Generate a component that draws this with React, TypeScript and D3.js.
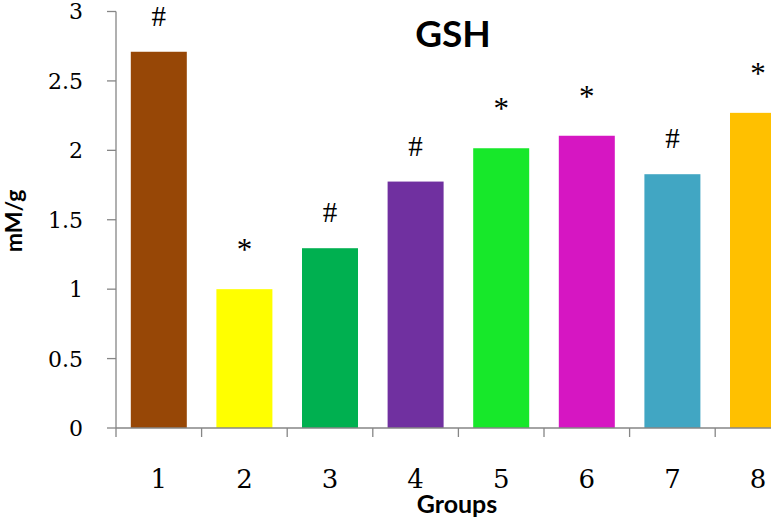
import React from "react";
import * as d3 from "d3";

const groups = ["1", "2", "3", "4", "5", "6", "7", "8"];
const values = [2.71, 1.0, 1.295, 1.775, 2.015, 2.105, 1.828, 2.27];
const marks = ["#", "*", "#", "#", "*", "*", "#", "*"];
const colors = ["#974706", "#FFFF00", "#00B050", "#7030A0", "#17E82A", "#D616C2", "#41A6C3", "#FFC000"];
const yTicks = [0, 0.5, 1, 1.5, 2, 2.5, 3];

const width = 771;
const height = 521;
const left = 116;
const step = 85.6;
const gap = 1 - 56 / step;

const App = () => {
    const x = d3
        .scaleBand()
        .domain(groups)
        .range([left, left + step * groups.length])
        .paddingInner(gap)
        .paddingOuter(gap / 2);
    const y = d3.scaleLinear().domain([0, 3]).range([428, 11.5]);
    const axisColor = "#868686";
    const serif = "'DejaVu Serif', serif";

    return (
        <svg width={width} height={height} style={{ position: "absolute", left: 0, top: 0, background: "white" }}>
            <text x={453} y={47} textAnchor="middle" fontFamily="Lato" fontWeight="700" fontSize="37">GSH</text>

            {groups.map((g, i) => (
                <g key={g}>
                    <rect x={x(g)} y={y(values[i])} width={x.bandwidth()} height={y(0) - y(values[i])} fill={colors[i]} />
                    <text
                        x={x(g) + x.bandwidth() / 2}
                        y={y(values[i]) - (marks[i] === "#" ? 26 : 29)}
                        textAnchor="middle"
                        fontFamily="'Liberation Serif', serif"
                        fontSize={marks[i] === "#" ? 29 : 31}
                    >
                        {marks[i]}
                    </text>
                    <text x={x(g) + x.bandwidth() / 2} y={488} textAnchor="middle" fontFamily={serif} fontSize="26">{g}</text>
                </g>
            ))}

            {/* axes */}
            <line x1={left} x2={left} y1={y(3)} y2={437} stroke={axisColor} strokeWidth="1.3" />
            <line x1={left} x2={left + step * groups.length} y1={y(0)} y2={y(0)} stroke={axisColor} strokeWidth="1.3" />
            {yTicks.map(t => (
                <g key={t}>
                    <line x1={107} x2={left} y1={y(t)} y2={y(t)} stroke={axisColor} strokeWidth="1.3" />
                    <text x={83} y={y(t)} dy="0.36em" textAnchor="end" fontFamily={serif} fontSize="22">{t}</text>
                </g>
            ))}
            {groups.slice(1).map(g => (
                <line key={g} x1={x(g) - x.step() * gap / 2} x2={x(g) - x.step() * gap / 2} y1={y(0)} y2={437} stroke={axisColor} strokeWidth="1.3" />
            ))}

            <text x={457} y={513} textAnchor="middle" fontFamily="Lato" fontWeight="700" fontSize="25">Groups</text>
            <text transform="translate(22 221) rotate(-90)" textAnchor="middle" fontFamily="Lato" fontWeight="700" fontSize="23">mM/g</text>
        </svg>
    );
};

export default App;
